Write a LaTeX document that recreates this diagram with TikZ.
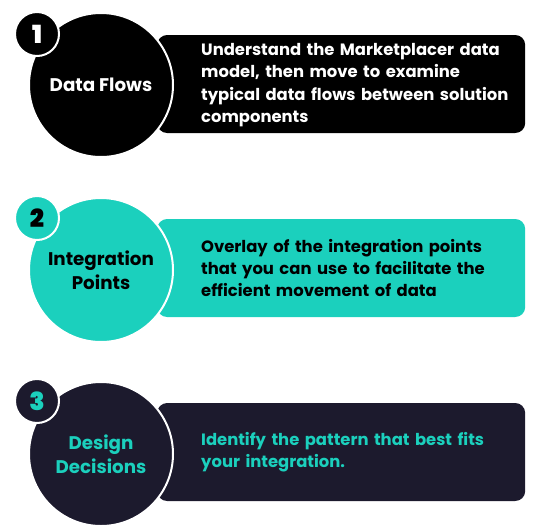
\documentclass[tikz,border=0pt]{standalone}
\usepackage{fontspec}
\setmainfont{Poppins}
\newfontfamily\numfont{Poppins}[UprightFont=* Black]
\usetikzlibrary{positioning}
\definecolor{aqua}{HTML}{1BD0BD}
\definecolor{navy}{HTML}{1C1A2D}

\tikzset{
    bar/.style={rectangle, rounded corners=10pt, minimum width=368pt, minimum height=98pt, anchor=west, inner sep=0pt},
    bigdot/.style={circle, draw=white, line width=2pt, minimum size=144pt, inner sep=0pt, align=center, font=\fontsize{18.3}{23.5}\selectfont\bfseries},
    numdot/.style={circle, draw=white, line width=2pt, minimum size=44pt, inner sep=0pt, font=\fontsize{25}{25}\numfont},
    blurb/.style={anchor=west, align=left, text width=330pt, inner sep=0pt, font=\fontsize{16.4}{22.3}\selectfont\bfseries}
}

\begin{document}
\begin{tikzpicture}[x=1pt, y=-1pt]
        \useasboundingbox (0,0) rectangle (536,528);

        % step 1
        \node[bar, fill=black] (bar1) at (157,84) {};
        \node[blurb, text=white] (txt1) at (201,85) {Understand the Marketplacer data\\model, then move to examine\\typical data flows between solution\\components};
        \node[bigdot, fill=black, text=white] (flows) at (101,85) {Data Flows};
        \node[numdot, fill=black, text=white] (n1) at (37,34) {1};

        % step 2
        \node[bar, fill=aqua] (bar2) at (157,268) {};
        \node[blurb, text=black] (txt2) at (201,268) {Overlay of the integration points\\that you can use to facilitate the\\efficient movement of data};
        \node[bigdot, fill=aqua, text=black] (points) at (101,270) {Integration\\Points};
        \node[numdot, fill=aqua, text=black] (n2) at (37,218) {2};

        % step 3
        \node[bar, fill=navy] (bar3) at (157,452) {};
        \node[blurb, text=aqua] (txt3) at (201,452) {Identify the pattern that best fits\\your integration.};
        \node[bigdot, fill=navy, text=aqua] (decisions) at (101,454) {Design\\Decisions};
        \node[numdot, fill=navy, text=aqua] (n3) at (37,401) {3};
\end{tikzpicture}
\end{document}
